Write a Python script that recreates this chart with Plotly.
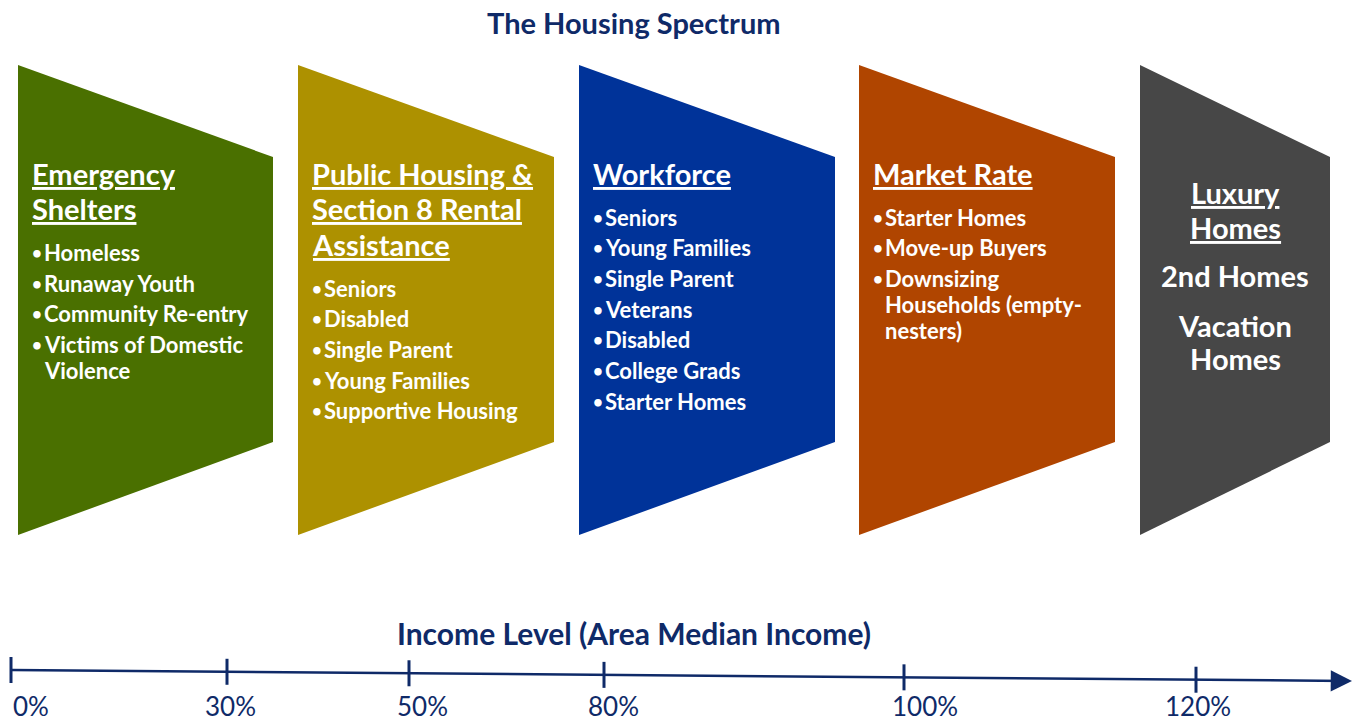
import plotly.graph_objects as go

W, H = 1363, 723
FONT = "Lato"
NAVY = "#0F2A68"

# --- data ---
headings = [
    ["Emergency", "Shelters"],
    ["Public Housing &", "Section 8 Rental", "Assistance"],
    ["Workforce"],
    ["Market Rate"],
    ["Luxury", "Homes"],
]
bullets = [
    ["Homeless", "Runaway Youth", "Community Re-entry", "Victims of Domestic<br>Violence"],
    ["Seniors", "Disabled", "Single Parent", "Young Families", "Supportive Housing"],
    ["Seniors", "Young Families", "Single Parent", "Veterans", "Disabled",
     "College Grads", "Starter Homes"],
    ["Starter Homes", "Move-up Buyers", "Downsizing<br>Households (empty-<br>nesters)"],
    [],
]
extras = [[], [], [], [], ["2nd Homes", "Vacation<br>Homes"]]
colors = ["#4A7000", "#AD9100", "#003399", "#B04500", "#474747"]
income_labels = ["0%", "30%", "50%", "80%", "100%", "120%"]

# --- layout geometry ---
panel_left = [18, 298, 579, 859, 1140]
panel_width = [255, 256, 256, 256, 190]
top_y, bottom_y = 65, 535
shoulder_top, shoulder_bot = 157, 442
tick_x = [11, 227, 409, 604, 904, 1196]
label_x = [31, 230, 422, 613, 925, 1198]
axis_x0, axis_x1, axis_y0, axis_y1 = 10, 1352, 670, 681


def axis_y(x):
    return axis_y0 + (x - axis_x0) / (axis_x1 - axis_x0) * (axis_y1 - axis_y0)


fig = go.Figure()
annotations = []


def text(x, y, s, size, xanchor="left", color="white"):
    annotations.append(dict(
        x=x, y=y, text=s, showarrow=False, xanchor=xanchor, yanchor="middle",
        borderpad=0, font=dict(family=FONT, size=size, color=color),
    ))


for i, color in enumerate(colors):
    x0 = panel_left[i]
    x1 = x0 + panel_width[i]
    fig.add_trace(go.Scatter(
        x=[x0, x1, x1, x0, x0],
        y=[top_y, shoulder_top, shoulder_bot, bottom_y, top_y],
        fill="toself", fillcolor=color, mode="lines",
        line=dict(width=0, color=color), hoverinfo="skip", showlegend=False,
    ))

    if i < 4:
        tx = x0 + 13
        y = 173
        for line in headings[i]:
            text(tx, y, "<u><b>" + line + "</b></u>", 29)
            y += 35.5
        y = y - 35.5 + 44
        for b in bullets[i]:
            text(x0 + 13, y, "<b>•</b>", 17)
            for part in b.split("<br>"):
                text(x0 + 25, y, "<b>" + part + "</b>", 22)
                y += 26
            y += 30.7 - 26
    else:
        cx = x0 + panel_width[i] / 2
        y = 192
        for line in headings[i]:
            text(cx, y, "<u><b>" + line + "</b></u>", 29, xanchor="center")
            y += 35
        y = 275
        for extra in extras[i]:
            for part in extra.split("<br>"):
                text(cx, y, "<b>" + part + "</b>", 29, xanchor="center")
                y += 33
            y += 50 - 33

# titles
text(634, 22, "<b>The Housing Spectrum</b>", 29, xanchor="center", color=NAVY)
text(634, 633, "<b>Income Level (Area Median Income)</b>", 30, xanchor="center", color=NAVY)

# income axis
annotations.append(dict(
    x=axis_x1, y=axis_y1, ax=axis_x0, ay=axis_y0, xref="x", yref="y",
    axref="x", ayref="y", showarrow=True, arrowhead=2, arrowsize=1.7,
    arrowwidth=2.5, arrowcolor=NAVY, text="",
))
for tx, lx, lab in zip(tick_x, label_x, income_labels):
    yc = axis_y(tx)
    fig.add_shape(type="line", x0=tx, x1=tx, y0=yc - 13, y1=yc + 13,
                  line=dict(color=NAVY, width=3))
    text(lx, 706, lab, 26, xanchor="center", color=NAVY)

fig.update_layout(
    width=W, height=H, margin=dict(l=0, r=0, t=0, b=0),
    paper_bgcolor="white", plot_bgcolor="white",
    xaxis=dict(range=[0, W], visible=False, fixedrange=True),
    yaxis=dict(range=[H, 0], visible=False, fixedrange=True),
    annotations=annotations, showlegend=False,
)

fig.write_html("out.html", config={"displayModeBar": False},
               post_script="document.body.style.margin='0';")
